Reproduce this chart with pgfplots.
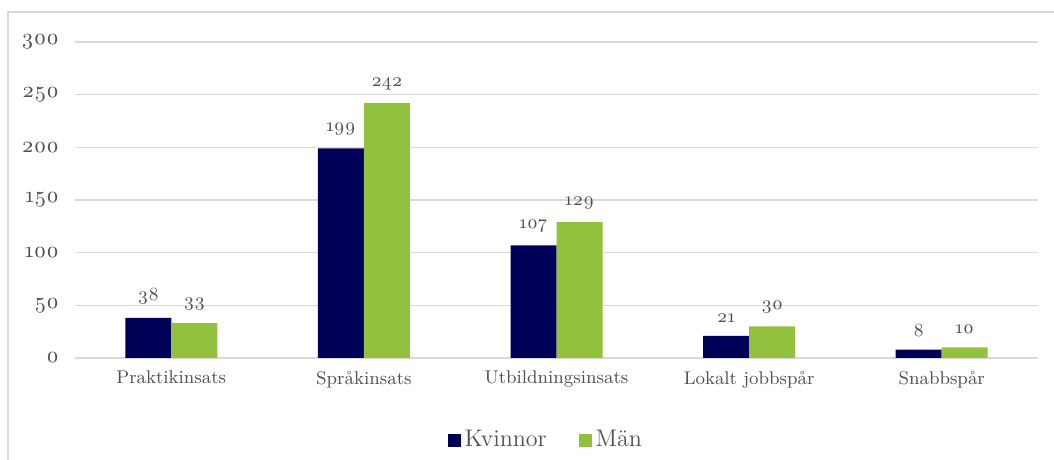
\documentclass[border=0pt]{standalone}
\usepackage{fontspec}
\setmainfont{Latin Modern Roman}[Numbers=OldStyle]
\usepackage{pgfplots}
\pgfplotsset{compat=1.18}
\definecolor{navy}{RGB}{0,0,88}
\definecolor{lgreen}{RGB}{146,193,62}
\definecolor{txt}{RGB}{80,80,80}
\definecolor{gridc}{RGB}{217,217,217}

\begin{document}
\begin{tikzpicture}
\useasboundingbox (-37.5pt,-51pt) rectangle (489.5pt,179pt);
% outer chart frame (open at the right and bottom, as cropped)
\draw[gridc, line width=0.8pt] (-33.5pt,-52pt) -- (-33.5pt,173pt) -- (490pt,173pt);
\begin{axis}[
    scale only axis,
    width=481.5pt, height=158pt,
    ybar=0pt,
    bar width=23pt,
    xmin=-0.5, xmax=4.5,
    ymin=0, ymax=300,
    ytick={0,50,...,300},
    xtick={0,1,2,3,4},
    xticklabels={Praktikinsats, Språkinsats, Utbildningsinsats, Lokalt jobbspår, Snabbspår},
    ymajorgrids,
    grid style={gridc, line width=0.6pt},
    axis line style={draw=none},
    major tick length=0pt,
    /pgf/number format/assume math mode=true,
    tick label style={text=txt},
    yticklabel style={font=\fontsize{11}{12}\selectfont, xshift=-4.5pt},
    xticklabel style={font=\fontsize{9.2}{11}\selectfont, yshift=-3pt},
    nodes near coords,
    every node near coord/.append style={font=\fontsize{9.3}{10}\selectfont, text=txt, yshift=3pt},
    legend style={at={(axis description cs:0.49,-0.26)}, anchor=center, draw=none,
        legend columns=2, font=\fontsize{12}{13}\selectfont, text=txt,
        /tikz/every even column/.append style={column sep=14pt}},
    legend image code/.code={\fill[#1] (0pt,-3.2pt) rectangle (6.4pt,3.2pt);},
]
\addplot[fill=navy, draw=none] coordinates {(0,38) (1,199) (2,107) (3,21) (4,8)};
\addlegendentry{Kvinnor}
\addplot[fill=lgreen, draw=none] coordinates {(0,33) (1,242) (2,129) (3,30) (4,10)};
\addlegendentry{Män}
\end{axis}
\end{tikzpicture}
\end{document}
